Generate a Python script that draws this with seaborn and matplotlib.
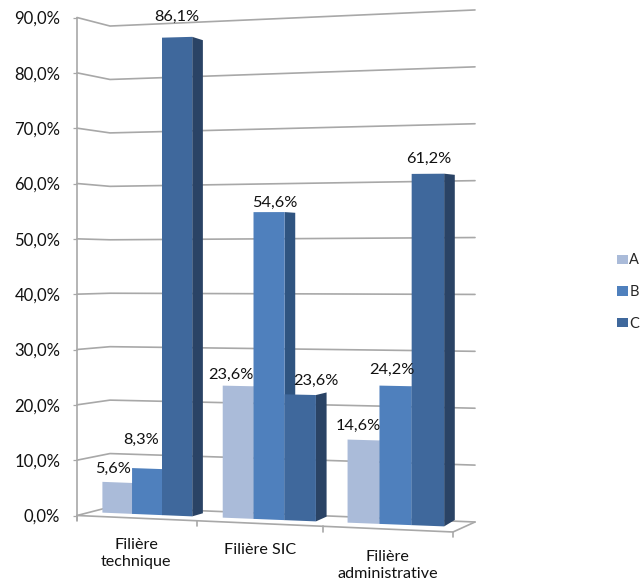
import numpy as np
import pandas as pd
import seaborn as sns
import matplotlib.pyplot as plt
from matplotlib.patches import Polygon
from matplotlib.transforms import Transform

filieres = ['Filière\ntechnique', 'Filière SIC', 'Filière\nadministrative']
series = ['A', 'B', 'C']
valeurs_a = [5.6, 23.6, 14.6]
valeurs_b = [8.3, 54.6, 24.2]
valeurs_c = [86.1, 22.3, 61.2]  # la barre C de SIC est dessinée plus bas que son étiquette
etiquettes = [['5,6%', '23,6%', '14,6%'], ['8,3%', '54,6%', '24,2%'], ['86,1%', '23,6%', '61,2%']]
graduations = [0, 10, 20, 30, 40, 50, 60, 70, 80, 90]

couleurs = ['#AABBD9', '#4F80BD', '#3F689C']
couleurs_cote = ['#7F8FAD', '#2F5480', '#2A4365']
gris = '#A8A8A8'
police = 'Lato'


def plan(x, v, profondeur=0):
    # perspective : la base descend vers la droite et l'echelle grandit
    x = np.asarray(x, dtype=float)
    v = np.asarray(v, dtype=float)
    xp = 0.0585 + 0.9555 * x + 0.018 * x ** 2
    base = 0.18 - 0.905 * x
    echelle = 1.0 + 0.0175 * x
    if profondeur:
        xp = xp + 0.085
        base = base + 0.45 + 0.3 * x
        echelle = echelle * (0.988 - 0.004 * x)
    return xp, base + v * echelle


class Plan(Transform):
    input_dims = 2
    output_dims = 2
    is_separable = False

    def transform_non_affine(self, values):
        xp, vp = plan(values[:, 0], values[:, 1])
        return np.column_stack([xp, vp])


sns.set_theme(style='white')
plt.rcParams['font.family'] = [police, 'DejaVu Sans']

df = pd.DataFrame({
    'filiere': filieres * 3,
    'serie': np.repeat(series, 3),
    'valeur': valeurs_a + valeurs_b + valeurs_c,
})

fig = plt.figure(figsize=(6.42, 5.82), dpi=100)
ax = fig.add_axes([77 / 642, (582 - 515.5) / 582, 376 / 642, 498 / 582])
sns.barplot(data=df, x='filiere', y='valeur', hue='serie', hue_order=series, order=filieres,
            palette=couleurs, width=0.75, gap=0, saturation=1, errorbar=None, linewidth=0, ax=ax)
ax.set_xlim(-0.5, 2.5)
ax.set_ylim(0, 90)
ax.set_xlabel('')
ax.set_ylabel('')

# murs et sol
for g in graduations:
    ax.plot([-0.5, -0.2367, 2.6756], [g, 1.536 + 0.9658 * g, -1.175 + 1.0282 * g],
            color=gris, lw=1.2, clip_on=False, zorder=1)
ax.plot([2.6756, 2.5, -0.5], [-1.175, -2.98, 0], color=gris, lw=1.2, clip_on=False, zorder=1)
for b in [-0.5, 0.4575, 1.463, 2.5]:
    vb = -2.98 * (b + 0.5) / 3
    ax.plot([b, b], [vb, vb - 0.95], color=gris, lw=1.2, clip_on=False, zorder=1)

# barres : face avant en perspective + cote droit
t_plan = Plan() + ax.transData
for conteneur, c_cote in zip(ax.containers, couleurs_cote):
    for barre in conteneur:
        xd = barre.get_x() + barre.get_width()
        h = barre.get_height()
        x1, v1 = plan([xd, xd], [0, h])
        x2, v2 = plan([xd, xd], [h, 0], 1)
        ax.add_patch(Polygon(np.column_stack([np.r_[x1, x2], np.r_[v1, v2]]), closed=True,
                             facecolor=c_cote, edgecolor='none', clip_on=False, zorder=2))
        barre.set_transform(t_plan)
        barre.set_clip_on(False)
        barre.set_zorder(3)

# etiquettes de valeurs (decalages en pixels, placees a la main comme dans Excel)
decalages = [[(-4, 14), (-7, 11), (-5, 14)], [(-6, 29), (6, 9), (-4, 16)], [(0, 20), (16, 14), (1, 15)]]
for conteneur, textes, decs in zip(ax.containers, etiquettes, decalages):
    for barre, texte, dec in zip(conteneur, textes, decs):
        ax.annotate(texte, xy=(barre.get_x() + barre.get_width() / 2, barre.get_height()),
                    xycoords=t_plan, xytext=dec, textcoords='offset pixels', ha='center', va='center',
                    fontsize=11.8, color='#111111', zorder=5, annotation_clip=False)

# noms de categories sous le sol
dec_cat = [(-11, -39), (-9, -30), (-8, -41)]
for i, (nom, dec) in enumerate(zip(filieres, dec_cat)):
    ax.annotate(nom, xy=(i, 0), xycoords=t_plan, xytext=dec, textcoords='offset pixels',
                ha='center', va='center', fontsize=11.6, linespacing=1.36, color='#111111',
                annotation_clip=False)

ax.set_xticks([])
ax.set_yticks(graduations)
ax.set_yticklabels([f'{g},0%' for g in graduations], fontsize=12, color='#111111')
ax.tick_params(axis='y', left=True, length=3, width=0.9, color=gris, pad=9)
for cote in ['top', 'right', 'bottom']:
    ax.spines[cote].set_visible(False)
ax.spines['left'].set_color(gris)
ax.spines['left'].set_linewidth(1.2)
ax.spines['left'].set_bounds(-0.9, 90)

sns.move_legend(ax, loc='center left', bbox_to_anchor=(611 / 642, (582 - 292) / 582),
                bbox_transform=fig.transFigure, frameon=False, title=None, fontsize=10.5,
                handlelength=0.75, handleheight=0.65, handletextpad=0.1, labelspacing=1.2,
                borderaxespad=0)

fig.savefig('out.png', dpi=100)
